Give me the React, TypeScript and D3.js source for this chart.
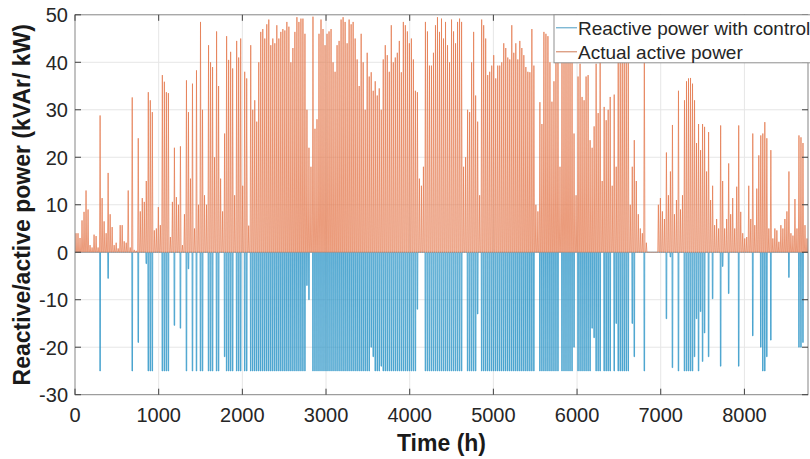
import * as d3 from 'd3'
import { useEffect, useRef } from 'react'

const width = 810, height = 459
const font = '"Liberation Sans", Arial, sans-serif'

// hourly axis, one year
const hoursInYear = 8760
const xTicks = [0, 1000, 2000, 3000, 4000, 5000, 6000, 7000, 8000]
const yTicks = [-30, -20, -10, 0, 10, 20, 30, 40, 50]
const legendLabels = ['Reactive power with control', 'Actual active power']

// daily peak of the actual active power (kW), day 0 .. 364
const activePeak = [
  4, 4, 3, 6.7, 8.5, 13, 9, 1.5, 1, 3.7,
  3.4, 1, 28.8, 11.4, 6.5, 4, 16.7, 8, 5.3, 1.5,
  2, 0.8, 5.7, 5.7, 2.3, 2, 13, 1, 32.6, 0.5,
  0.3, 24, 8.6, 11.4, 10.6, 15, 33.7, 32, 29.5, 4.6,
  5, 9.5, 5.7, 37.3, 35.9, 33.7, 33.5, 3.2, 10.6, 22,
  11.6, 10, 22.3, 1.5, 8, 36.2, 29.5, 15.5, 35.5, 5,
  38.3, 10, 48.5, 30, 12, 10, 43.6, 40, 39, 20,
  46.5, 35, 15.5, 8.6, 25, 45.5, 40.5, 42.2, 38.7, 12,
  44.5, 41, 45, 14, 38, 36.6, 5.6, 43.6, 30, 32,
  27.5, 40, 46.4, 47, 45, 48, 49, 43.6, 45, 44,
  47.8, 45, 46.4, 47, 46.7, 48.5, 47.5, 40, 43, 46.4,
  49.5, 48.5, 49.2, 49.2, 46, 30, 22, 18, 49.6, 26,
  28, 46, 49, 47, 43.6, 46, 46.5, 47, 40, 38,
  43.6, 44.5, 49, 49.5, 48.5, 44, 49, 48, 48.5, 45,
  40.6, 35, 46, 40, 30, 42, 37, 37.9, 34, 36,
  33, 34.5, 30, 40.6, 43.6, 41.5, 38, 47.8, 40, 41,
  42, 44.5, 37.9, 48.5, 47.8, 46.5, 44, 45, 40.6, 34,
  33.7, 15.5, 14, 18, 48.5, 46.5, 39.3, 39.3, 42, 47.8,
  49.5, 46.4, 49.2, 45, 48.5, 43.6, 40, 49, 46.5, 44,
  48.5, 49.2, 48.5, 18, 20, 30, 29.5, 40, 46.4, 33,
  27.5, 12, 49, 47.8, 45, 37.3, 38, 39.3, 41.5, 36.6,
  39.3, 39.3, 40, 44, 43, 41, 40.6, 47.8, 42, 44,
  40.6, 44.5, 43, 41.5, 39, 38, 37.9, 47, 39.3, 10,
  8.6, 31.6, 27, 46.4, 46, 45.5, 40, 31.7, 36, 44,
  46, 18, 40, 41, 46, 44, 47, 42, 25, 12,
  37, 39.7, 32.7, 32, 37, 37.3, 23.6, 22, 26.5, 39.7,
  29.3, 45, 15, 30.6, 27.8, 30, 32.7, 14, 33.2, 18,
  46, 48, 47, 46, 45, 44, 10, 18, 23.6, 15,
  8, 5, 4, 45, 2, 0, 0, 0, 0, 0,
  10, 11.4, 8.6, 7, 21, 12, 17, 26.8, 8, 11,
  34, 9, 12, 32, 36, 36.6, 36.7, 35.5, 32, 23,
  27, 21.5, 27, 26.4, 17, 25.3, 11, 14, 5.7, 7,
  5, 26.7, 15, 5, 7, 18.7, 8, 11.4, 5, 13.8,
  26.7, 8.5, 4, 2.9, 3.2, 14, 7, 25, 5.7, 13.4,
  20.4, 24.6, 25, 27.4, 24, 5, 21.5, 2.9, 5, 4.6,
  2.2, 5.7, 5, 7, 8.6, 17, 4, 3.5, 11.2, 5,
  24.6, 24.2, 23, 5.7, 2.9,
]

// daily minimum of the controlled reactive power (kVAr), day 0 .. 364
const reactiveMin = [
  0, 0, 0, 0, 0, 0, 0, 0, 0, 0,
  0, 0, -25, 0, 0, 0, -5.5, 0, 0, 0,
  0, 0, 0, 0, 0, 0, 0, 0, -25, 0,
  0, -19, 0, 0, 0, -2.4, -25, -25, -25, 0,
  0, 0, 0, -25, -25, -25, -25, 0, 0, -15.4,
  0, 0, -16, 0, 0, -25, -3.5, 0, -25, 0,
  -25, 0, -25, -25, 0, 0, -25, -25, -25, 0,
  -25, -25, 0, 0, -22, -25, -25, -25, -25, 0,
  -25, -25, -25, 0, -25, -25, 0, -25, -25, -25,
  -25, -25, -25, -25, -25, -25, -25, -25, -25, -25,
  -25, -25, -25, -25, -25, -25, -25, -25, -25, -25,
  -25, -25, -25, -25, -25, -7, -10, 0, -25, -25,
  -25, -25, -25, -25, -25, -25, -25, -25, -25, -25,
  -25, -25, -25, -25, -25, -25, -25, -25, -25, -25,
  -25, -25, -25, -25, -25, -25, -25, -20, -22, -25,
  -25, -25, -24, -25, -25, -25, -25, -25, -25, -25,
  -25, -25, -25, -25, -25, -25, -25, -25, -25, -25,
  -12, 0, 0, 0, -25, -25, -25, -25, -25, -25,
  -25, -25, -25, -25, -25, -25, -25, -25, -25, -25,
  -25, -25, -25, 0, 0, -25, -25, -25, -25, -25,
  -13, 0, -25, -25, -25, -25, -25, -25, -25, -25,
  -25, -25, -25, -25, -25, -25, -25, -25, -25, -25,
  -25, -25, -25, -25, -25, -25, -25, -25, -25, 0,
  0, -25, -25, -25, -25, -25, -25, -25, -25, -25,
  -25, 0, -25, -25, -25, -25, -25, -25, -20, 0,
  -25, -25, -25, -25, -25, -25, -25, -16, -18, -25,
  -25, -25, 0, -25, -25, -25, -25, 0, -25, -15,
  -25, -25, -25, -25, -25, -25, 0, -15, -22, 0,
  0, 0, 0, -25, 0, 0, 0, 0, 0, 0,
  0, 0, 0, 0, -14, 0, -1, -24.3, 0, 0,
  -25, 0, 0, -25, -25, -25, -25, -25, -22, -14,
  -25, -12.5, -23, -17, 0, -22, 0, -9.8, 0, 0,
  0, -24, -3, 0, 0, -8.7, 0, 0, 0, 0,
  -24, 0, 0, 0, 0, 0, 0, -17.6, 0, 0,
  0, -20, -25, -25, -22, 0, -18.5, 0, 0, 0,
  0, 0, 0, 0, 0, -5.3, 0, 0, 0, 0,
  -20, -20, -19, 0, 0,
]

const colors = { reactive: '#3097c8', active: '#e47b50' }

const chart = (svgNode: SVGSVGElement) => {
  const svg = d3.select(svgNode)
  svg.selectAll('*').remove()

  const x = d3.scaleLinear().domain([0, hoursInYear]).range([75, 808])
  const y = d3.scaleLinear().domain([-30, 50]).range([394.7, 14.8])
  const [x0, x1] = x.range()
  const [yb, yt] = y.range()

  svg.append('rect').attr('width', width).attr('height', height).attr('fill', '#fff')

  svg.append('clipPath').attr('id', 'plot-clip')
    .append('rect')
    .attr('x', x0).attr('y', yt).attr('width', x1 - x0).attr('height', yb - yt)

  // grid
  const grid = svg.append('g').attr('stroke', '#e6e6e6').attr('stroke-width', 1)
  grid.selectAll('line.gx').data(xTicks.slice(1)).join('line')
    .attr('x1', d => x(d)).attr('x2', d => x(d)).attr('y1', yt).attr('y2', yb)
  grid.selectAll('line.gy').data(yTicks.slice(1, -1)).join('line')
    .attr('y1', d => y(d)).attr('y2', d => y(d)).attr('x1', x0).attr('x2', x1)

  // one spike per day on the hourly axis
  const reactivePts: [number, number][] = []
  reactiveMin.forEach((v, d) => {
    reactivePts.push([d * 24 + 7, 0])
    if (v < 0) reactivePts.push([d * 24 + 9, v], [d * 24 + 15, v])
    reactivePts.push([d * 24 + 17, 0])
  })
  const activePts: [number, number][] = []
  activePeak.forEach((p, d) => {
    activePts.push([d * 24 + 5, 0], [d * 24 + 12, p], [d * 24 + 19, 0])
  })

  const line = d3.line<[number, number]>().x(d => x(d[0])).y(d => y(d[1]))
  const plot = svg.append('g').attr('clip-path', 'url(#plot-clip)').attr('fill', 'none')
  plot.append('path').attr('d', line(reactivePts))
    .attr('stroke', colors.reactive).attr('stroke-width', 0.8)
  plot.append('path').attr('d', line(activePts))
    .attr('stroke', colors.active).attr('stroke-width', 0.75)

  // box + ticks
  svg.append('rect')
    .attr('x', x0).attr('y', yt).attr('width', x1 - x0).attr('height', yb - yt)
    .attr('fill', 'none').attr('stroke', '#858585').attr('stroke-width', 1)

  const ticks = svg.append('g').attr('stroke', '#404040').attr('stroke-width', 1)
  ticks.selectAll('line.tb').data(xTicks).join('line')
    .attr('x1', d => x(d)).attr('x2', d => x(d)).attr('y1', yb).attr('y2', yb - 6)
  ticks.selectAll('line.tt').data(xTicks).join('line')
    .attr('x1', d => x(d)).attr('x2', d => x(d)).attr('y1', yt).attr('y2', yt + 6)
  ticks.selectAll('line.tl').data(yTicks).join('line')
    .attr('y1', d => y(d)).attr('y2', d => y(d)).attr('x1', x0).attr('x2', x0 + 6)
  ticks.selectAll('line.tr').data(yTicks).join('line')
    .attr('y1', d => y(d)).attr('y2', d => y(d)).attr('x1', x1).attr('x2', x1 - 6)

  const labels = svg.append('g').attr('font-family', font).attr('fill', '#262626')
  labels.selectAll('text.xl').data(xTicks).join('text')
    .attr('x', d => x(d)).attr('y', yb + 27.5)
    .attr('text-anchor', 'middle').attr('font-size', 20)
    .text(d => String(d))
  labels.selectAll('text.yl').data(yTicks).join('text')
    .attr('x', x0 - 7).attr('y', d => y(d) + 7.5)
    .attr('text-anchor', 'end').attr('font-size', 20)
    .text(d => String(d))

  labels.append('text')
    .attr('x', (x0 + 808) / 2).attr('y', 451)
    .attr('text-anchor', 'middle').attr('font-size', 23).attr('font-weight', 'bold')
    .attr('fill', '#1a1a1a')
    .text('Time (h)')
  labels.append('text')
    .attr('transform', `translate(30,${(yt + yb) / 2}) rotate(-90)`)
    .attr('text-anchor', 'middle').attr('font-size', 23).attr('font-weight', 'bold')
    .attr('fill', '#1a1a1a')
    .text('Reactive/active power (kVAr/ kW)')

  // legend
  const lg = svg.append('g').attr('transform', `translate(554,${yt})`)
  lg.append('rect').attr('width', 300).attr('height', 48)
    .attr('fill', '#fff').attr('stroke', '#8f8f8f').attr('stroke-width', 1)
  const items = lg.selectAll('g').data(legendLabels).join('g')
    .attr('transform', (_, i) => `translate(0,${13 + i * 24})`)
  items.append('line').attr('x1', 2).attr('x2', 23)
    .attr('stroke', (_, i) => (i === 0 ? '#4a9cc2' : '#cf7a55')).attr('stroke-width', 1)
  items.append('text').attr('x', 24).attr('y', 7)
    .attr('font-family', font).attr('font-size', 19).attr('fill', '#262626')
    .text(d => d)
}

export default function App() {
  const svg = useRef<SVGSVGElement>(null)
  useEffect(() => {
    if (svg.current) chart(svg.current)
  }, [])
  return (
    <svg ref={svg} width={width} height={height}
      style={{ position: 'absolute', left: 0, top: 0, display: 'block' }} />
  )
}
